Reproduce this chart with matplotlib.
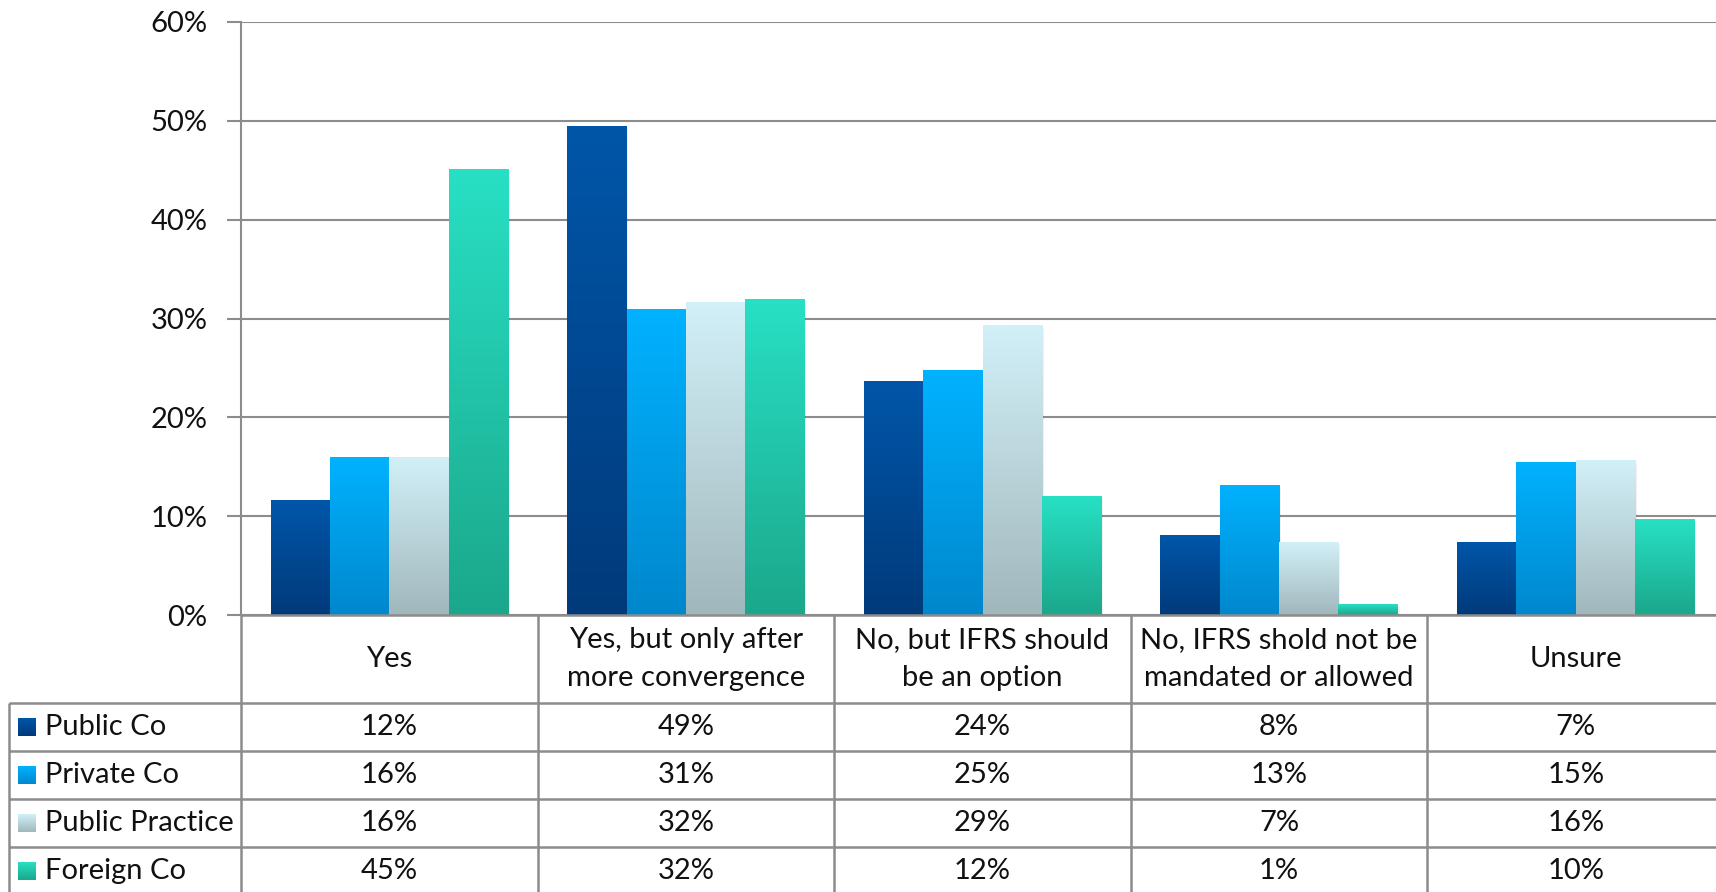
import numpy as np
import matplotlib
matplotlib.use("Agg")
import matplotlib.pyplot as plt
from matplotlib.colors import to_rgb

# ---- data -------------------------------------------------------------
categories = [
    "Yes",
    "Yes, but only after\nmore convergence",
    "No, but IFRS should\nbe an option",
    "No, IFRS shold not be\nmandated or allowed",
    "Unsure",
]
series_names = ["Public Co", "Private Co", "Public Practice", "Foreign Co"]
public_co = [11.6, 49.4, 23.6, 8.0, 7.3]
private_co = [15.9, 30.9, 24.7, 13.1, 15.4]
public_practice = [15.9, 31.6, 29.3, 7.3, 15.6]
foreign_co = [45.1, 31.9, 12.0, 1.1, 9.7]
y_ticks = [0, 10, 20, 30, 40, 50, 60]

series_values = [public_co, private_co, public_practice, foreign_co]
# (top colour, bottom colour) of the vertical gradient fill
gradients = [
    ("#0056A9", "#003A7A"),
    ("#00B2FF", "#0087CC"),
    ("#D2F0F8", "#A0B7BC"),
    ("#28E0C4", "#1BA78B"),
]

W, H = 1716, 892
DPI = 100
FONT = "Lato"
FS = 21
GRID = "#8c8c8c"

fig = plt.figure(figsize=(W / DPI, H / DPI), dpi=DPI)

# main plotting area (pixel geometry, top-down y)
ax_left = 241
col_w = 296.6
ax_right = ax_left + 5 * col_w
y_zero = 615
y_top = 22
ax = fig.add_axes([ax_left / W, 1 - y_zero / H, (ax_right - ax_left) / W, (y_zero - y_top) / H])
ax.set_facecolor("none")

n = len(series_names)
bar_w = 1 / (n + 1)
x = np.arange(len(categories))


def gradient_image(c_top, c_bot, steps=256):
    t = np.linspace(0, 1, steps)[:, None]
    a = np.array(to_rgb(c_top))
    b = np.array(to_rgb(c_bot))
    return (a[None, :] * (1 - t) + b[None, :] * t)[:, None, :]


for i, (vals, (ct, cb)) in enumerate(zip(series_values, gradients)):
    offs = (i - (n - 1) / 2) * bar_w
    bars = ax.bar(x + offs, vals, width=bar_w, color="none", edgecolor="none", zorder=3)
    img = gradient_image(ct, cb)
    for p in bars.patches:
        bx, bw, bh = p.get_x(), p.get_width(), p.get_height()
        # soft drop shadow
        ax.bar(bx + bw / 2 + 0.006, bh, width=bw, bottom=-0.25, color="#000000",
               alpha=0.06, zorder=2.5, edgecolor="none")
        ax.imshow(img, extent=[bx, bx + bw, 0, bh], aspect="auto",
                  interpolation="bilinear", zorder=3)

ax.set_xlim(-0.5, len(categories) - 0.5)
ax.set_ylim(0, 60)
ax.set_yticks(y_ticks)
ax.set_yticklabels([f"{v}%" for v in y_ticks], fontfamily=FONT, fontsize=FS, color="#111111")
ax.set_xticks([])
ax.tick_params(axis="y", length=10, width=1.5, color=GRID, pad=14)
ax.grid(axis="y", color=GRID, linewidth=1.5, zorder=1)
for s in ["top", "right", "bottom"]:
    ax.spines[s].set_visible(False)
ax.spines["left"].set_color(GRID)
ax.spines["left"].set_linewidth(1.5)

# ---- data table under the plot --------------------------------------
tab = fig.add_axes([0, 0, 1, 1], zorder=5)
tab.set_xlim(0, W)
tab.set_ylim(H, 0)
tab.axis("off")
tab.patch.set_alpha(0)

header_bottom = 702.6
row_h = 48.15
table_left = 9
rows_y = [header_bottom + k * row_h for k in range(len(series_names) + 1)]
col_edges = [ax_left + k * col_w for k in range(len(categories) + 1)]

lk = dict(color=GRID, linewidth=1.8, solid_capstyle="butt")
# horizontal lines
tab.plot([ax_left, W], [y_zero, y_zero], **lk)
for yy in rows_y[:-1]:
    tab.plot([table_left, W], [yy, yy], **lk)
# vertical lines
for xx in col_edges[:-1]:
    tab.plot([xx, xx], [y_zero, H + 5], **lk)
tab.plot([table_left, table_left], [header_bottom, H + 5], **lk)

# category headers
for j, cat in enumerate(categories):
    cx = (col_edges[j] + col_edges[j + 1]) / 2
    tab.text(cx, (y_zero + header_bottom) / 2, cat, ha="center", va="center",
             fontfamily=FONT, fontsize=FS, color="#111111", linespacing=1.55)

# rows: legend key + values
for i, (name, vals, (ct, cb)) in enumerate(zip(series_names, series_values, gradients)):
    cy = (rows_y[i] + rows_y[i + 1]) / 2
    sq = 18
    tab.imshow(gradient_image(ct, cb), extent=[18, 18 + sq, cy + sq / 2, cy - sq / 2],
               aspect="auto", interpolation="bilinear", zorder=6)
    tab.text(45, cy, name, ha="left", va="center", fontfamily=FONT, fontsize=FS,
             color="#111111")
    for j, v in enumerate(vals):
        cx = (col_edges[j] + col_edges[j + 1]) / 2
        tab.text(cx, cy, f"{v:.0f}%", ha="center", va="center", fontfamily=FONT,
                 fontsize=FS, color="#111111")
tab.set_xlim(0, W)
tab.set_ylim(H, 0)

fig.savefig("out.png", dpi=DPI, facecolor="white")
